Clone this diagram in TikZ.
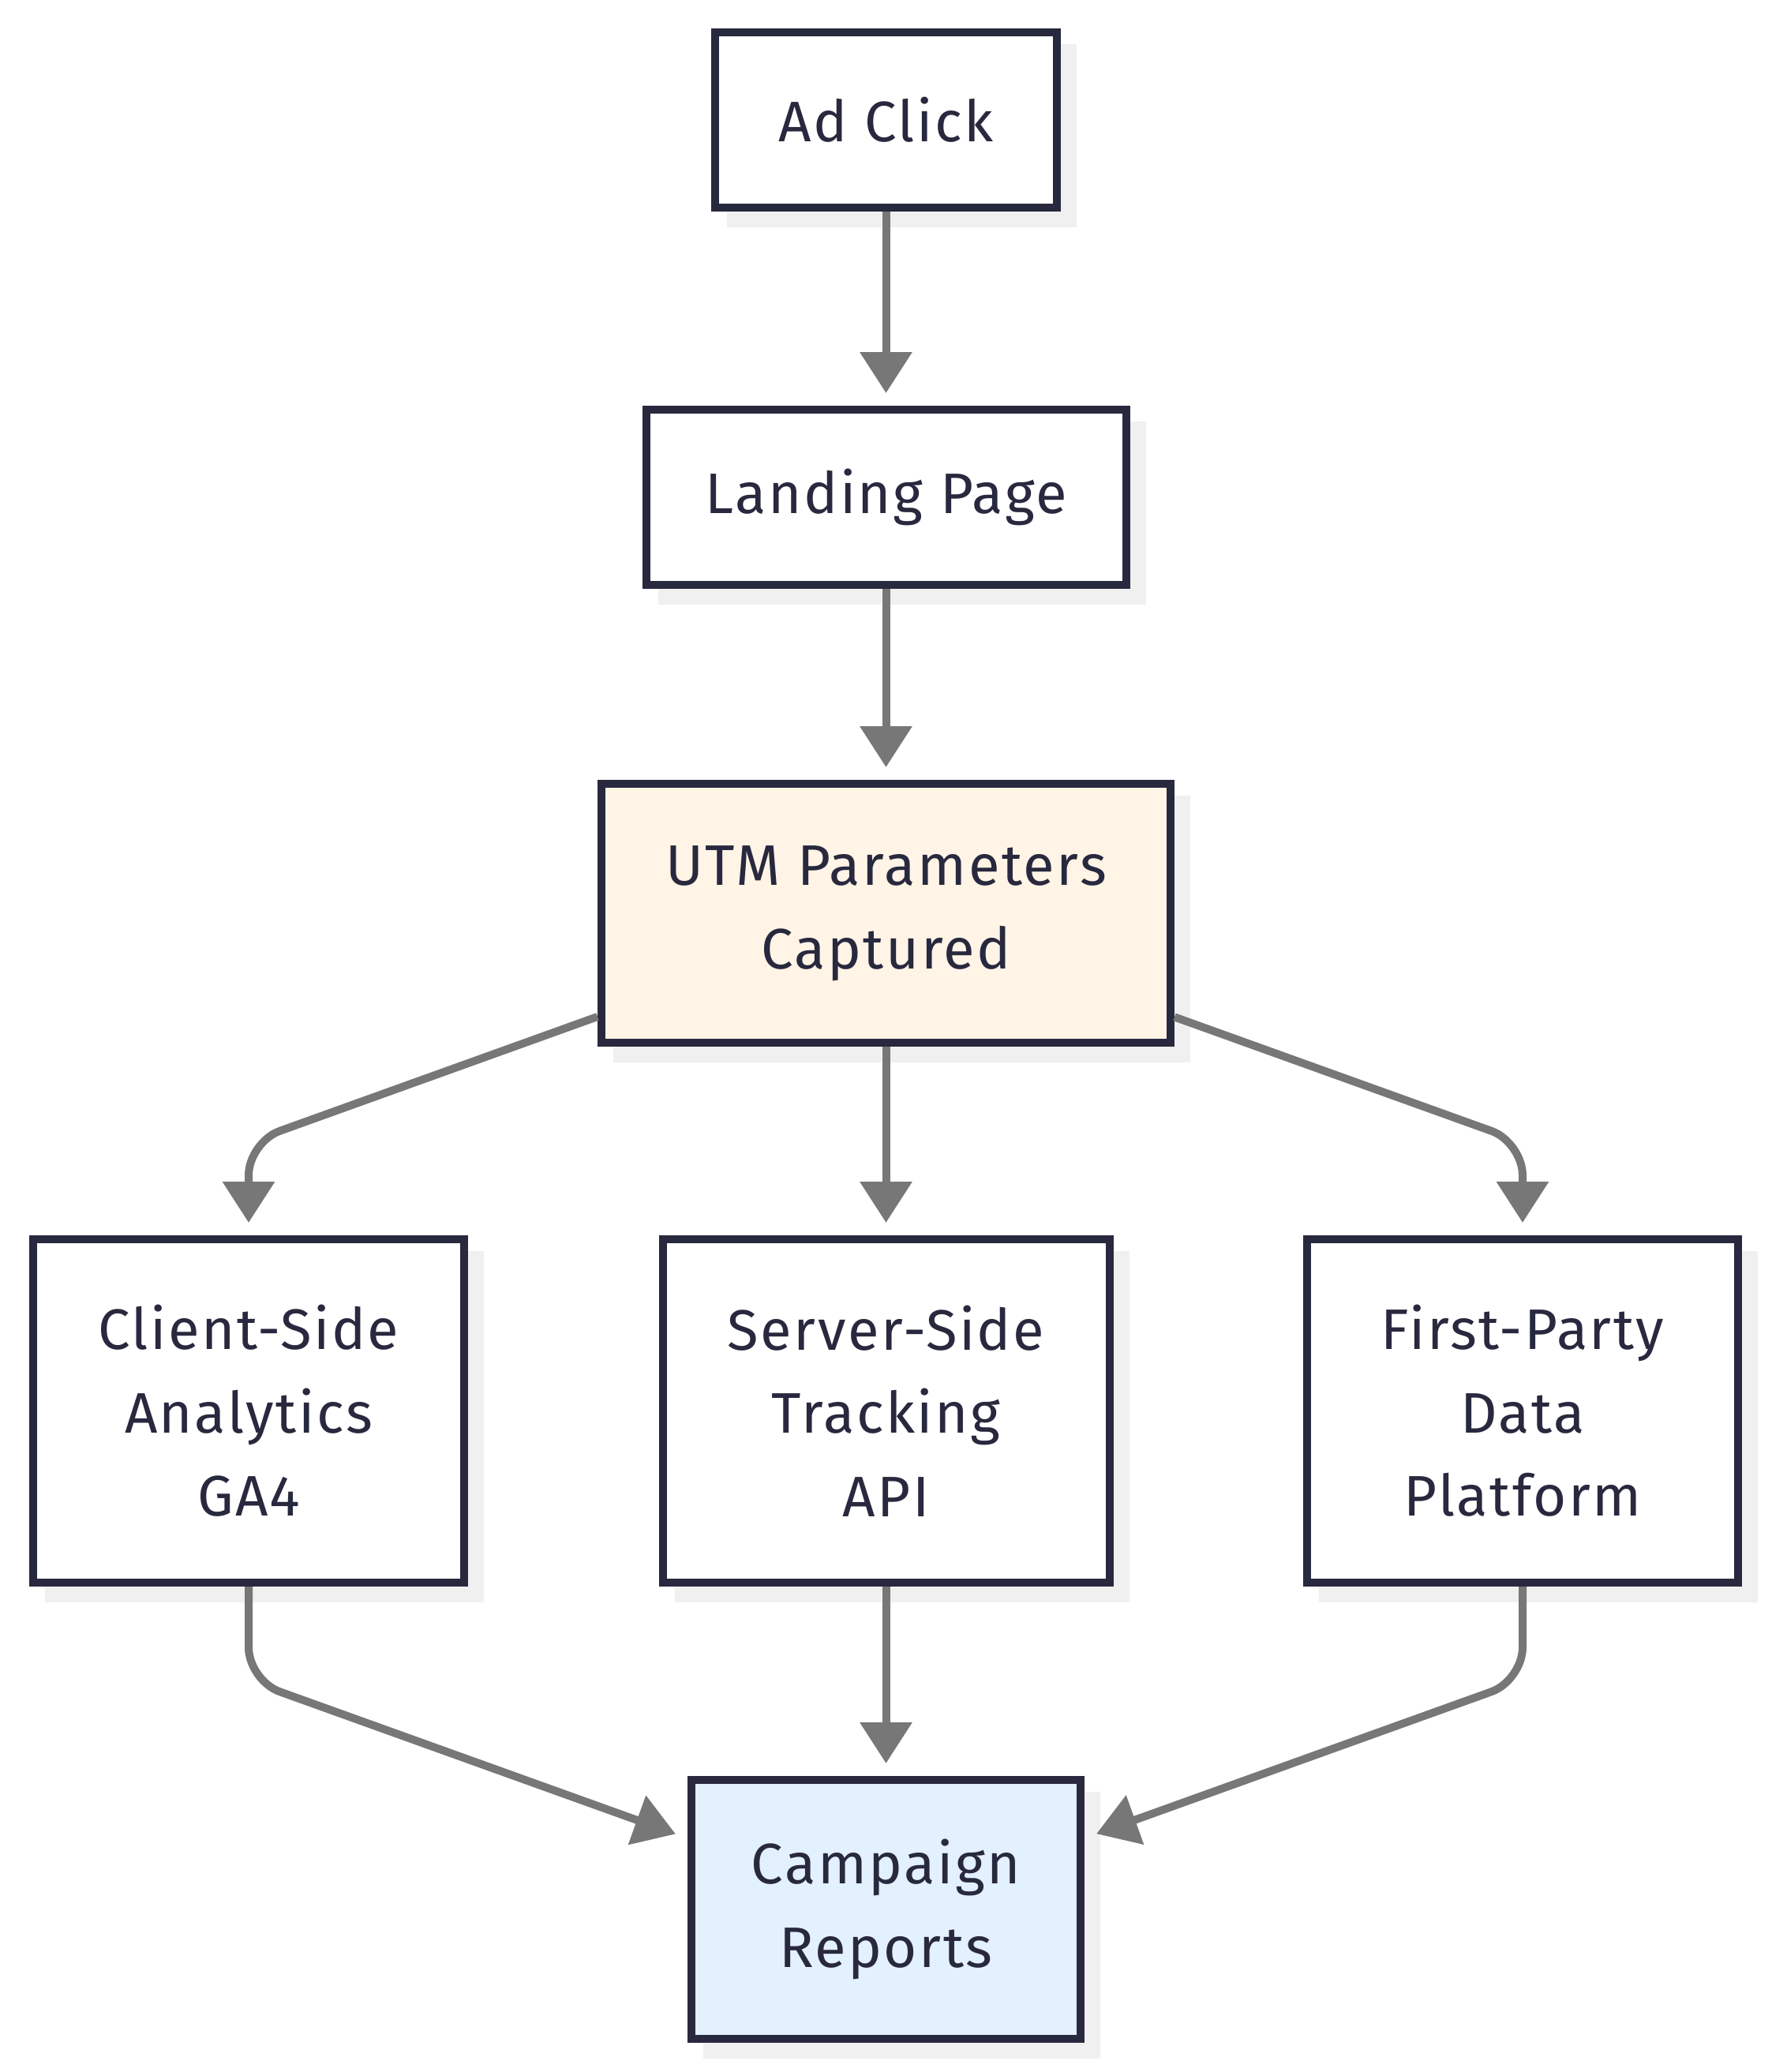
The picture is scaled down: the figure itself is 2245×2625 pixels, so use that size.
\documentclass[tikz,border=0pt]{standalone}
\usepackage{fontspec}
\setmainfont{Fira Sans}[LetterSpace=3.5]
\usetikzlibrary{arrows.meta,shadows}
\definecolor{bordc}{HTML}{28283E}
\definecolor{textc}{HTML}{28283E}
\definecolor{edgec}{HTML}{777777}
\definecolor{shadc}{HTML}{F0F0F0}
\definecolor{utmfill}{HTML}{FFF4E6}
\definecolor{repfill}{HTML}{E3F0FD}
\begin{document}
\begin{tikzpicture}[x=0.25pt,y=-0.25pt,
  box/.style={draw=bordc, line width=2.5pt, fill=white, text=textc, align=center,
    inner sep=0pt, font=\fontsize{18.1pt}{26.4pt}\selectfont,
    general shadow={fill=shadc, draw=shadc, line width=2.5pt, shadow xshift=5pt, shadow yshift=-5pt}},
  edge/.style={draw=edgec, line width=2.5pt, -{Triangle[length=13pt,width=16pt]}, shorten >=4pt},
]
\useasboundingbox (0,0) rectangle (2245,2625);
\node[box, minimum width=108.25pt, minimum height=55.5pt] (ad) at (1122.5,152) {Ad Click};
\node[box, minimum width=152pt, minimum height=55.5pt] (land) at (1122.5,630) {Landing Page};
\node[box, fill=utmfill, minimum width=180.25pt, minimum height=82pt] (utm) at (1122.5,1157) {UTM Parameters\\Captured};
\node[box, minimum width=136.5pt, minimum height=108.75pt] (client) at (315,1787.5) {Client-Side\\Analytics\\GA4};
\node[box, minimum width=141.5pt, minimum height=108.75pt] (server) at (1122.5,1787.5) {Server-Side\\Tracking\\API};
\node[box, minimum width=136.5pt, minimum height=108.75pt] (first) at (1929,1787.5) {First-Party\\Data\\Platform};
\node[box, fill=repfill, minimum width=123.25pt, minimum height=82pt] (rep) at (1122.5,2419) {Campaign\\Reports};

\draw[edge] (ad) -- (land);
\draw[edge] (land) -- (utm);
\draw[edge] (utm) -- (server);
\draw[edge, rounded corners=10.5pt] (utm) -- (315,1447) -- (client);
\draw[edge, rounded corners=10.5pt] (utm) -- (1929,1447) -- (first);
\draw[edge] (server) -- (rep);
\draw[edge, rounded corners=10.5pt] (client) -- (315,2129) -- (rep);
\draw[edge, rounded corners=10.5pt] (first) -- (1929,2129) -- (rep);
\end{tikzpicture}
\end{document}
